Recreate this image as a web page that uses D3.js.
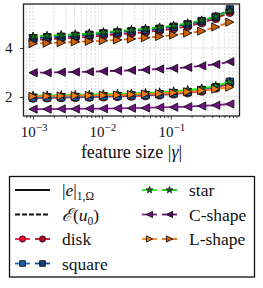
<!DOCTYPE html>
<html>
<head>
  <meta charset='utf-8'/>
  <style>
body { margin: 0; background: #fff; }
svg { font-family: "Liberation Serif", "DejaVu Serif", "Times New Roman", Times, serif; }
.grid line { stroke: #cfcfcf; stroke-width: 0.8; stroke-dasharray: 2,1.5; }
  </style>
  <script src="https://d3js.org/d3.v7.min.js"></script>
</head>
<body>
<svg width="263" height="288" font-family="Liberation Serif, DejaVu Serif, serif"></svg>
<script>

// feature sizes |gamma|
var gamma = [0.001, 0.0016, 0.00256, 0.0041, 0.00655, 0.0105, 0.0168, 0.0268, 0.0429, 0.0687, 0.11, 0.176, 0.281, 0.45, 0.72];

// solid lines: |e|_{1,Omega}
var errDisk   = [1.95, 1.96, 1.97, 1.98, 1.99, 2.00, 2.02, 2.03, 2.05, 2.08, 2.12, 2.17, 2.24, 2.36, 2.55];
var errSquare = [1.97, 1.98, 1.99, 2.00, 2.01, 2.03, 2.04, 2.06, 2.08, 2.11, 2.15, 2.20, 2.28, 2.40, 2.62];
var errStar   = [2.05, 2.06, 2.07, 2.08, 2.09, 2.11, 2.12, 2.14, 2.16, 2.19, 2.23, 2.28, 2.35, 2.45, 2.62];
var errC      = [1.50, 1.50, 1.51, 1.51, 1.52, 1.52, 1.53, 1.54, 1.55, 1.57, 1.58, 1.60, 1.63, 1.66, 1.71];
var errL      = [2.02, 2.03, 2.04, 2.05, 2.06, 2.07, 2.08, 2.10, 2.12, 2.14, 2.17, 2.21, 2.26, 2.32, 2.40];

// dashed lines: E(u0)
var estDisk   = [4.33, 4.36, 4.39, 4.42, 4.46, 4.51, 4.56, 4.60, 4.65, 4.71, 4.79, 4.89, 5.03, 5.21, 5.46];
var estSquare = [4.40, 4.44, 4.46, 4.50, 4.54, 4.60, 4.64, 4.69, 4.73, 4.79, 4.87, 4.97, 5.10, 5.28, 5.58];
var estStar   = [4.47, 4.50, 4.53, 4.56, 4.60, 4.65, 4.69, 4.74, 4.79, 4.84, 4.91, 5.01, 5.13, 5.29, 5.52];
var estC      = [2.99, 2.99, 3.01, 3.02, 3.03, 3.05, 3.07, 3.09, 3.11, 3.14, 3.17, 3.21, 3.27, 3.33, 3.44];
var estL      = [4.18, 4.20, 4.22, 4.25, 4.27, 4.30, 4.33, 4.37, 4.42, 4.47, 4.53, 4.61, 4.69, 4.86, 5.06];

var shapes = ["disk", "square", "star", "C-shape", "L-shape"];
var yTicks = [2, 4];
var xMajor = [1e-3, 1e-2, 1e-1];
var xExp = ["\u22123", "\u22122", "\u22121"];

var series = [
  {name: shapes[0], err: errDisk,   est: estDisk,   c1: "#f2163f", c2: "#b80f30", m1: "#ee0a38", m2: "#b00828", sym: "circle"},
  {name: shapes[1], err: errSquare, est: estSquare, c1: "#2266b4", c2: "#174a88", m1: "#1e5fae", m2: "#153f7a", sym: "square"},
  {name: shapes[2], err: errStar,   est: estStar,   c1: "#1eee1e", c2: "#14c814", m1: "#1f8a1f", m2: "#1a701a", sym: "star"},
  {name: shapes[3], err: errC,      est: estC,      c1: "#82208f", c2: "#6a1078", m1: "#6f1480", m2: "#5a0a68", sym: "left"},
  {name: shapes[4], err: errL,      est: estL,      c1: "#ff7f12", c2: "#e06a0a", m1: "#f07a14", m2: "#c9600c", sym: "right"}
];

var svg = d3.select("svg"),
    pLeft = 23.5, pRight = 239.5, pTop = 4, pBottom = 116;

var x = d3.scaleLog().domain([Math.pow(10, -3.139), 0.995]).range([pLeft, pRight]);
var y = d3.scaleLinear().domain([1.22, 5.80]).range([pBottom, pTop]);

// minor tick positions 2..9 per decade
var xMinor = [];
[-4, -3, -2, -1].forEach(function(e) {
  for (var k = 2; k <= 9; k++) {
    var v = k * Math.pow(10, e);
    if (v >= x.domain()[0] && v <= x.domain()[1]) xMinor.push(v);
  }
});

// grid
var grid = svg.append("g").attr("class", "grid");
grid.selectAll(".vx").data(xMajor.concat(xMinor)).enter().append("line")
    .attr("x1", function(d) { return x(d); }).attr("x2", function(d) { return x(d); })
    .attr("y1", pTop).attr("y2", pBottom);
grid.selectAll(".hy").data(yTicks).enter().append("line")
    .attr("x1", pLeft).attr("x2", pRight)
    .attr("y1", function(d) { return y(d); }).attr("y2", function(d) { return y(d); });

function markerPath(sym, s) {
  if (sym === "circle") return d3.symbol(d3.symbolCircle, s * s * 0.72)();
  if (sym === "square") return d3.symbol(d3.symbolSquare, s * s * 0.75)();
  if (sym === "star") return d3.symbol(d3.symbolStar, s * s * 0.32)();
  var h = s * 0.48;
  if (sym === "left") return "M" + (-h) + ",0L" + h + "," + (-h) + "L" + h + "," + h + "Z";
  return "M" + h + ",0L" + (-h) + "," + (-h) + "L" + (-h) + "," + h + "Z";
}

var line = d3.line()
    .x(function(d, i) { return x(gamma[i]); })
    .y(function(d) { return y(d); });

var plot = svg.append("g");
series.forEach(function(s) {
  [["err", s.c1, s.m1, null], ["est", s.c2, s.m2, "5,2"]].forEach(function(v) {
    var g = plot.append("g");
    g.append("path")
        .attr("d", line(s[v[0]]))
        .attr("fill", "none")
        .attr("stroke", v[1])
        .attr("stroke-width", 1.8)
        .attr("stroke-dasharray", v[3]);
    g.selectAll("path.m").data(s[v[0]]).enter().append("path")
        .attr("class", "m")
        .attr("transform", function(d, i) { return "translate(" + x(gamma[i]) + "," + y(d) + ")"; })
        .attr("d", markerPath(s.sym, 8.5))
        .attr("fill", v[2])
        .attr("stroke", "#111")
        .attr("stroke-width", 0.9);
  });
});

// axes frame
svg.append("rect")
    .attr("x", pLeft).attr("y", pTop)
    .attr("width", pRight - pLeft).attr("height", pBottom - pTop)
    .attr("fill", "none").attr("stroke", "#222").attr("stroke-width", 1.3);

var xAxis = svg.append("g").attr("transform", "translate(0," + pBottom + ")");
xAxis.call(d3.axisBottom(x).tickValues(xMajor).tickSize(3.5).tickSizeOuter(0).tickFormat(""));
xAxis.append("g").call(d3.axisBottom(x).tickValues(xMinor).tickSize(2).tickSizeOuter(0).tickFormat(""));
xAxis.selectAll(".domain").remove();
xAxis.selectAll("line").attr("stroke", "#222").attr("stroke-width", 0.9);

function label(xp, yp, size) {
  return svg.append("text")
      .attr("x", xp).attr("y", yp)
      .attr("font-family", "Liberation Serif, DejaVu Serif, serif")
      .attr("font-size", size)
      .attr("fill", "#111");
}

xMajor.forEach(function(v, i) {
  var t = label(x(v) + 1, 137, 15).attr("text-anchor", "middle");
  t.append("tspan").text("10");
  t.append("tspan").attr("dy", -6).attr("font-size", 11).text(xExp[i]);
});

var yAxis = svg.append("g").attr("transform", "translate(" + pLeft + ",0)");
yAxis.call(d3.axisLeft(y).tickValues(yTicks).tickSize(3.5).tickSizeOuter(0).tickFormat(""));
yAxis.selectAll(".domain").remove();
yAxis.selectAll("line").attr("stroke", "#222").attr("stroke-width", 0.9);
yTicks.forEach(function(v) {
  label(12.5, y(v), 15).attr("dy", "0.35em").attr("text-anchor", "end").text(v);
});

// x label
var xl = label((pLeft + pRight) / 2, 158, 18).attr("text-anchor", "middle");
xl.append("tspan").text("feature size |");
xl.append("tspan").attr("font-style", "italic").text("\u03b3");
xl.append("tspan").text("|");

// legend
svg.append("rect")
    .attr("x", 9.5).attr("y", 176.5).attr("width", 245).attr("height", 100.5)
    .attr("fill", "#fff").attr("stroke", "#111").attr("stroke-width", 1.3);

var rowY = [190, 214.5, 239, 263.5];

function legendLabel(xp, yp) {
  return label(xp, yp, 17.5).attr("dy", "0.35em");
}

svg.append("line").attr("x1", 15).attr("x2", 50).attr("y1", rowY[0]).attr("y2", rowY[0])
    .attr("stroke", "#111").attr("stroke-width", 1.8);
var t1 = legendLabel(62, rowY[0]);
t1.append("tspan").text("|");
t1.append("tspan").attr("font-style", "italic").text("e");
t1.append("tspan").text("|");
t1.append("tspan").attr("dy", 4).attr("font-size", 11.5).text("1,\u03a9");

svg.append("line").attr("x1", 15).attr("x2", 50).attr("y1", rowY[1]).attr("y2", rowY[1])
    .attr("stroke", "#111").attr("stroke-width", 1.8).attr("stroke-dasharray", "5,2");
var t2 = legendLabel(62, rowY[1]);
t2.append("tspan").attr("font-style", "italic").text("\u2130");
t2.append("tspan").text("(");
t2.append("tspan").attr("font-style", "italic").text("u");
t2.append("tspan").attr("dy", 4).attr("font-size", 11.5).text("0");
t2.append("tspan").attr("dy", -4).text(")");

series.forEach(function(s, i) {
  var col = i < 2 ? 0 : 1,
      row = i < 2 ? i + 2 : i - 2,
      x0 = col === 0 ? 15 : 142,
      tx = col === 0 ? 62 : 189,
      yy = rowY[row];
  [[x0, s.c1, s.m1], [x0 + 20, s.c2, s.m2]].forEach(function(h) {
    svg.append("line").attr("x1", h[0]).attr("x2", h[0] + 15).attr("y1", yy).attr("y2", yy)
        .attr("stroke", h[1]).attr("stroke-width", 1.8);
    svg.append("path")
        .attr("transform", "translate(" + (h[0] + 7.5) + "," + yy + ")")
        .attr("d", markerPath(s.sym, 6.5))
        .attr("fill", h[2]).attr("stroke", "#111").attr("stroke-width", 0.9);
  });
  legendLabel(tx, yy).text(s.name);
});

</script>
</body>
</html>
